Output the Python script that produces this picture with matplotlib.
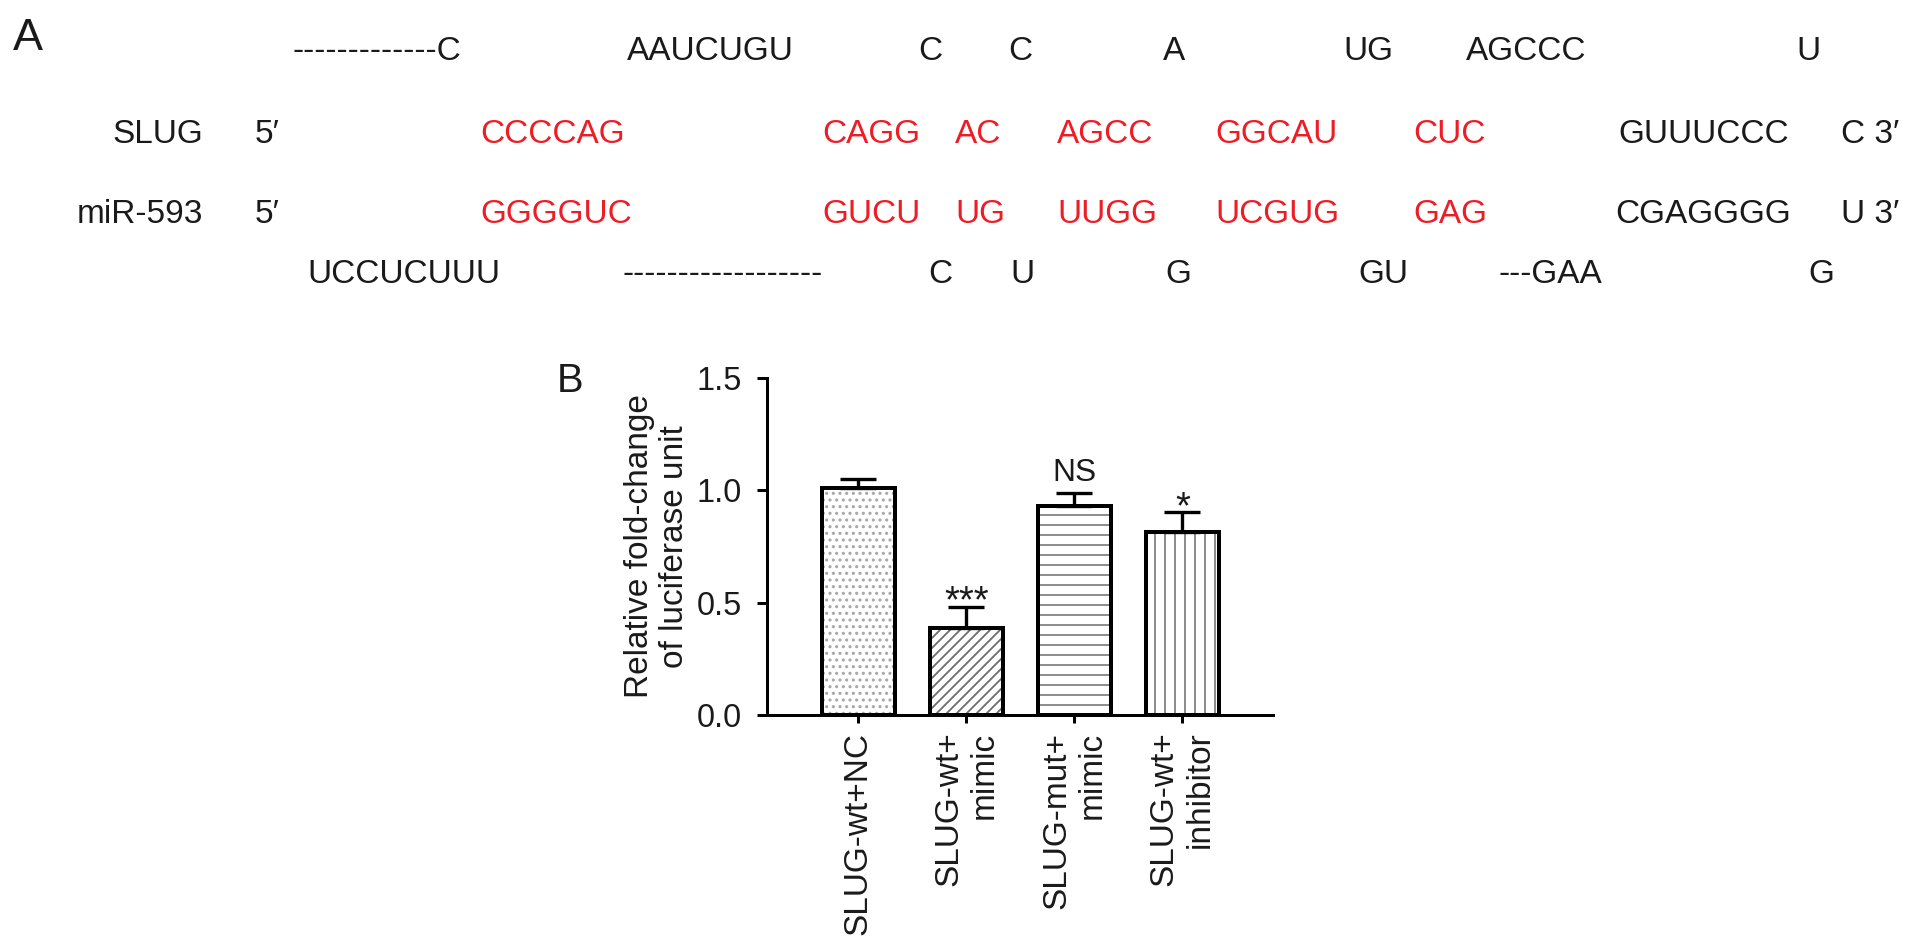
import matplotlib.pyplot as plt
import numpy as np

plt.rcParams['font.family'] = ['Liberation Sans', 'DejaVu Sans']
plt.rcParams['hatch.linewidth'] = 1.1

W, H, DPI = 1913, 952, 120
RED = '#EE1C25'
INK = '#1a1a1a'

# ---- Panel A: SLUG 3'UTR / miR-593 duplex ----
slug_loop = ['-------------C', 'AAUCUGU', 'C', 'C', 'A', 'UG', 'AGCCC', 'U']
slug_pair = ['CCCCAG', 'CAGG', 'AC', 'AGCC', 'GGCAU', 'CUC', 'GUUUCCC', 'C 3′']
mir_pair = ['GGGGUC', 'GUCU', 'UG', 'UUGG', 'UCGUG', 'GAG', 'CGAGGGG', 'U 3′']
mir_loop = ['UCCUCUUU', '------------------', 'C', 'U', 'G', 'GU', '---GAA', 'G']
paired = [True, True, True, True, True, True, False, False]

# ---- Panel B: luciferase reporter ----
groups = ['SLUG-wt+NC', 'SLUG-wt+\nmimic', 'SLUG-mut+\nmimic', 'SLUG-wt+\ninhibitor']
fold_change = [1.01, 0.387, 0.929, 0.813]
sem = [0.04, 0.095, 0.058, 0.09]
signif = ['', '***', 'NS', '*']

# layout of panel A (pixel positions, left edge / baseline)
row_base = [60, 143, 223, 283]
top_x = [292, 627, 918, 1008, 1163, 1343, 1466, 1796]
slug_x = [480, 822, 955, 1057, 1215, 1413, 1618, 1841]
mir_x = [480, 822, 955, 1057, 1215, 1413, 1615, 1841]
bot_x = [307, 623, 928, 1010, 1165, 1358, 1498, 1808]

fig = plt.figure(figsize=(W / DPI, H / DPI), dpi=DPI)


def ftxt(x, y, s, **kw):
    kw.setdefault('fontsize', 20)
    kw.setdefault('color', INK)
    fig.text(x / W, 1 - y / H, s, va='baseline', **kw)


ftxt(13, 50, 'A', fontsize=27)
ftxt(557, 392, 'B', fontsize=24)

ftxt(203, row_base[1], 'SLUG', ha='right')
ftxt(203, row_base[2], 'miR-593', ha='right')
ftxt(255, row_base[1], '5′')
ftxt(255, row_base[2], '5′')

for s, x in zip(slug_loop, top_x):
    ftxt(x, row_base[0], s)
for s, x, p in zip(slug_pair, slug_x, paired):
    ftxt(x, row_base[1], s, color=RED if p else INK)
for s, x, p in zip(mir_pair, mir_x, paired):
    ftxt(x, row_base[2], s, color=RED if p else INK)
for s, x in zip(mir_loop, bot_x):
    ftxt(x, row_base[3], s)

# ---- bar chart ----
ax = fig.add_axes([767 / W, 1 - 715 / H, (1273 - 767) / W, (715 - 378) / H])
x = np.arange(len(groups))
hatches = ['...', '////', '--', '||']
hatch_cols = ['#a8a8a8', '#6e6e6e', '#858585', '#858585']
bw = 0.676

ax.bar(x, fold_change, width=bw, color='white', edgecolor=hatch_cols,
       linewidth=0, hatch=hatches, zorder=2)
ax.bar(x, fold_change, width=bw, fill=False, edgecolor='black',
       linewidth=2.4, zorder=3)
ax.errorbar(x, fold_change, yerr=[np.zeros(len(x)), sem], fmt='none',
            ecolor='black', elinewidth=2.0, capsize=11, capthick=2.0, zorder=4)

for i, (t, m, e) in enumerate(zip(signif, fold_change, sem)):
    if not t:
        continue
    if t == 'NS':
        ax.annotate(t, (i, m + e), xytext=(0, 7.5), textcoords='offset points',
                    ha='center', va='baseline', fontsize=19, color=INK)
    else:
        ax.annotate(t, (i, m + e), xytext=(0, -3.5), textcoords='offset points',
                    ha='center', va='baseline', fontsize=23, color=INK)

ax.set_xlim(-0.847, 3.84)
ax.set_ylim(0, 1.5)
ax.set_yticks([0, 0.5, 1.0, 1.5])
ax.set_yticklabels(['0.0', '0.5', '1.0', '1.5'])
ax.set_xticks(x)
ax.set_xticklabels(groups, rotation=90, ha='center', va='top',
                   multialignment='right', fontsize=20, color=INK)

for side in ['top', 'right']:
    ax.spines[side].set_visible(False)
for side in ['left', 'bottom']:
    ax.spines[side].set_linewidth(1.8)
ax.tick_params(axis='y', direction='out', length=6, width=1.8, pad=9,
               labelsize=19.5, labelcolor=INK)
ax.tick_params(axis='x', direction='out', length=5, width=1.8, pad=5)

ax.set_ylabel('Relative fold-change\nof luciferase unit', fontsize=20,
              color=INK, va='center', linespacing=1.2)
ax.yaxis.set_label_coords((657 - 767) / 506, 0.5)

fig.savefig('out.png', dpi=DPI, facecolor='white')
